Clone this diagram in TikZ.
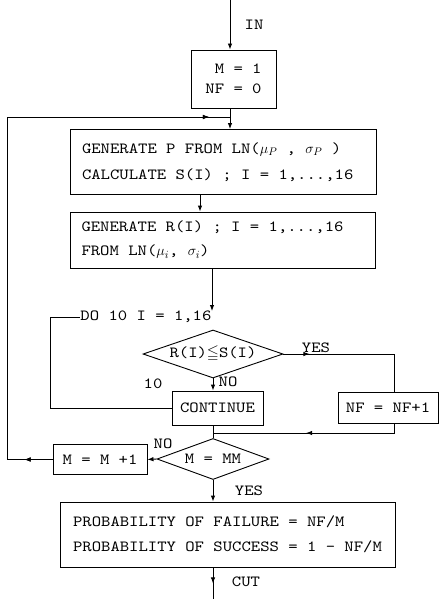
\documentclass[tikz,border=0pt]{standalone}
\usepackage{amssymb}
\usepackage{fontspec}
\setmainfont{lmmono10-regular}[Extension=.otf, FakeStretch=1.15]
\usetikzlibrary{shapes.geometric,arrows.meta,decorations.markings}
\newcommand{\lline}[1]{\makebox[282pt][l]{#1}}
\tikzset{
  tf/.style={font=\fontsize{15.5}{#1}\selectfont},
  tf/.default=24,
  boxnode/.style={draw, rectangle, inner ysep=0pt},
  dia/.style={draw, diamond, aspect=2.9, inner sep=0pt, font=\fontsize{15.5}{18}\selectfont},
  lbl/.style={font=\fontsize{15.5}{18}\selectfont, inner sep=0pt},
  tip/.style={-{Latex[length=6pt,width=4.5pt]}},
  midarr/.style={postaction={decorate},
    decoration={markings, mark=at position #1 with {\arrow{Latex[length=6pt,width=4.5pt]}}}},
  every path/.style={line width=0.9pt}
}
\begin{document}
\begin{tikzpicture}[x=1pt,y=-1pt]
\useasboundingbox (0,0) rectangle (442,599);
% nodes
\node[boxnode, tf=20, align=right, minimum width=85pt, minimum height=58pt] (b1) at (233.5,79) {M = 1\\NF = 0};
\node[boxnode, tf=26, align=left, minimum width=306pt, minimum height=65pt] (b2) at (223,162) {\lline{GENERATE P FROM LN($\mu_P$ , $\sigma_P$ )}\\\lline{CALCULATE S(I) ; I = 1,...,16}};
\node[boxnode, tf=24, align=left, minimum width=305pt, minimum height=56pt] (b3) at (222.5,240) {\lline{GENERATE R(I) ; I = 1,...,16}\\\lline{FROM LN($\mu_i$, $\sigma_i$)}};
\node[lbl, anchor=west] (do) at (80,317) {DO 10 I = 1,16};
\node[dia, minimum width=140pt, minimum height=48pt] (d1) at (213,354) {R(I)$\leqq$S(I)};
\node[boxnode, tf, minimum width=91pt, minimum height=34pt, inner xsep=0pt] (cont) at (217.5,408) {CONTINUE};
\node[boxnode, tf, minimum width=100pt, minimum height=31pt, inner xsep=0pt] (nf) at (388,408) {NF = NF+1};
\node[dia, minimum width=112pt, minimum height=41pt] (d2) at (213,459) {M = MM};
\node[boxnode, tf, minimum width=94pt, minimum height=30pt, inner xsep=0pt] (mb) at (100,459.5) {M = M +1};
\node[boxnode, tf=25, align=left, minimum width=335pt, minimum height=65pt] (fin) at (227.5,534.5) {PROBABILITY OF FAILURE = NF/M\\PROBABILITY OF SUCCESS = 1 - NF/M};
% labels
\node[lbl] (lin) at (254,25) {IN};
\node[lbl] (lyes1) at (316,348) {YES};
\node[lbl] (lno1) at (228,382) {NO};
\node[lbl] (l10) at (153,384) {10};
\node[lbl] (lno2) at (163,444) {NO};
\node[lbl] (lyes2) at (249,491) {YES};
\node[lbl] (lout) at (246,582) {CUT};
% coordinates
\coordinate (in) at (230,0);
\coordinate (out) at (213,599);
\coordinate (j1) at (230,117);
\coordinate (lx) at (7,0);
\coordinate (dox) at (50,0);
\coordinate (yx) at (394,0);
\coordinate (ry) at (0,433);
% connectors
\draw[tip] (in) -- (in |- b1.north);
\draw[tip] (j1 |- b1.south) -- (j1 |- b2.north);
\draw[tip] (200,0 |- b2.south) -- (200,0 |- b3.north);
\draw[tip] (212,0 |- b3.south) -- (212,311);
\draw (do.west) -- (dox |- do.west) -- (dox |- cont.west) -- (cont.west);
\draw[tip] (d1.south) -- (d1.south |- cont.north);
\draw[midarr=26pt] (d1.east) -- (yx |- d1.east) -- (yx |- nf.north);
\draw[midarr=97pt] (yx |- nf.south) -- (yx |- ry) -- (d1.south |- ry);
\draw (d1.south |- cont.south) -- (d2.north);
\draw[tip] (d2.west) -- (mb.east);
\draw[midarr=28pt, midarr=590pt] (mb.west) -- (lx |- mb.west) -- (lx |- j1) -- (j1);
\draw[tip] (d2.south) -- (d2.south |- fin.north);
\draw[midarr=16pt] (d2.south |- fin.south) -- (out);
\end{tikzpicture}
\end{document}
